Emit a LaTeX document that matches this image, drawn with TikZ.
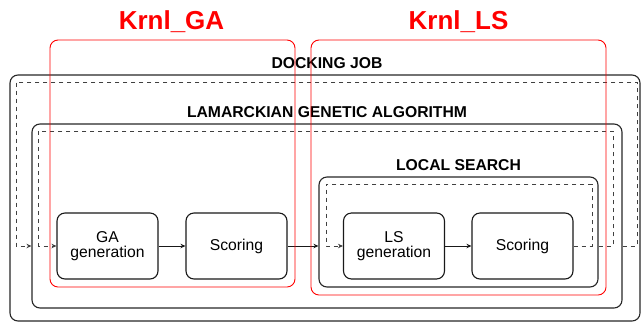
\documentclass[tikz,border=0pt]{standalone}
\usepackage{fontspec}
\setmainfont{Liberation Sans}
\usepackage{tikz}
\usetikzlibrary{arrows.meta,positioning}

\tikzset{
  procbox/.style={draw=black!90,line width=1.1bp,rounded corners=8bp,
    minimum width=101bp,minimum height=66bp,align=center,inner sep=0pt,
    font=\fontsize{15.7bp}{15bp}\selectfont},
  grpbox/.style={draw=black!85,line width=1.1bp,rounded corners=8bp,inner sep=0pt},
  krnlbox/.style={draw=red,line width=0.9bp,rounded corners=8bp,inner sep=0pt},
  grptitle/.style={inner sep=0pt,font=\fontsize{15.7bp}{16bp}\selectfont\bfseries},
  krnltitle/.style={inner sep=0pt,text=red,font=\fontsize{26bp}{28bp}\selectfont\bfseries},
  loopline/.style={draw=black!75,line width=1bp,dash pattern=on 4bp off 4bp},
  flow/.style={draw=black!90,line width=0.9bp},
  >={Stealth[length=5bp,width=4.5bp]}
}

\begin{document}
\begin{tikzpicture}[x=1bp,y=-1bp]
  \useasboundingbox (0,0) rectangle (641,322);

  % nested containers
  \node[grpbox,minimum width=630bp,minimum height=246bp] (dock) at (325,198) {};
  \node[grpbox,minimum width=590bp,minimum height=184bp] (lga) at (327,216) {};
  \node[grpbox,minimum width=279bp,minimum height=110bp] (ls) at (458.5,232) {};
  \node[grptitle] (docktitle) at (327,63) {DOCKING JOB};
  \node[grptitle] (lgatitle) at (327,112) {LAMARCKIAN GENETIC ALGORITHM};
  \node[grptitle] (lstitle) at (458.5,165) {LOCAL SEARCH};

  % process steps
  \node[procbox] (gagen) at (107.5,246) {GA\\generation};
  \node[procbox] (scorega) at (236.5,246) {Scoring};
  \node[procbox] (lsgen) at (394,246) {LS\\generation};
  \node[procbox] (scorels) at (522.5,246) {Scoring};

  % ports on the container sides, level with the steps
  \coordinate (lsin) at (scorega.east -| ls.west);
  \coordinate (lsout) at (scorels.east -| ls.east);
  \coordinate (lgain) at (gagen.west -| lga.west);
  \coordinate (lgaout) at (scorels.east -| lga.east);

  \draw[flow,->] (gagen) -- (scorega);
  \draw[flow,->] (scorega) -- (lsin);
  \draw[flow,->] (lsgen) -- (scorels);

  % loop corners
  \coordinate (lsNE) at (592,184);
  \coordinate (lsNW) at (326,184);
  \coordinate (lgaNE) at (613,131);
  \coordinate (lgaNW) at (38.5,131);
  \coordinate (dockNE) at (637,82);
  \coordinate (dockNW) at (16,82);

  \draw[loopline,->] (scorels.east) -| (lsNE) -- (lsNW) |- (lsgen.west);
  \draw[loopline,->] (lsout) -| (lgaNE) -- (lgaNW) |- (gagen.west);
  \draw[loopline,->] (lgaout) -| (dockNE) -- (dockNW) |- (lgain);

  % kernels
  \node[krnlbox,minimum width=245bp,minimum height=247bp] (krnlga) at (172.5,163.5) {};
  \node[krnlbox,minimum width=295bp,minimum height=255bp] (krnlls) at (458.5,167.5) {};
  \node[krnltitle] (gatitle) at (171.5,22) {Krnl\_GA};
  \node[krnltitle] (lsname) at (458.5,22) {Krnl\_LS};
\end{tikzpicture}
\end{document}
